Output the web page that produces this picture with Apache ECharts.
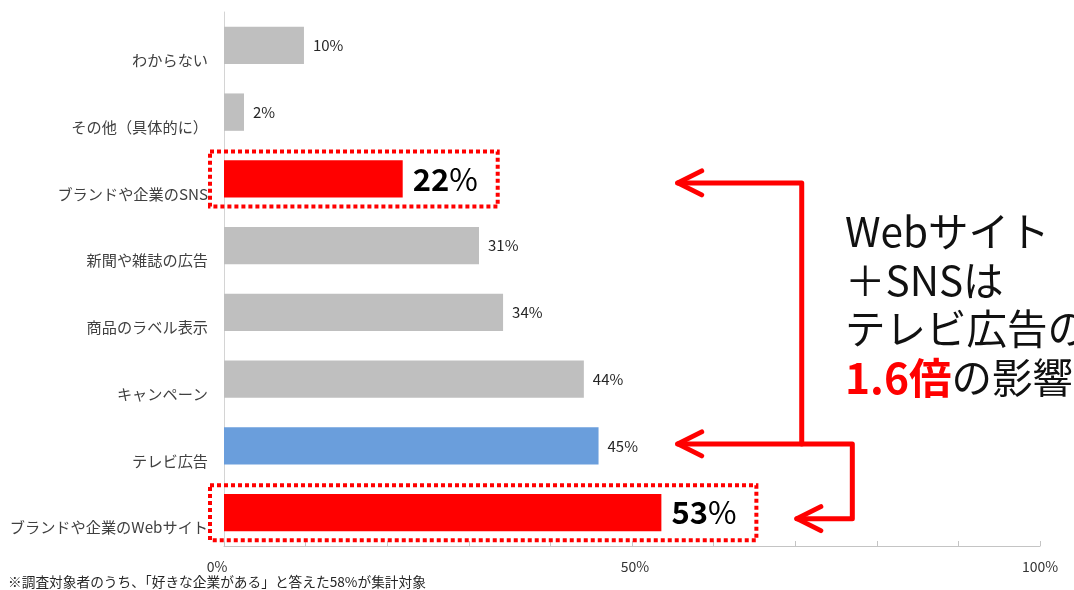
<!DOCTYPE html>
<html><head><meta charset="utf-8">
<script src="https://cdn.jsdelivr.net/npm/echarts/dist/echarts.min.js"></script>
<style>html,body{margin:0;padding:0;background:#fff}#c{width:1074px;height:590px}</style>
</head><body><div id="c"></div>
<script>
const categories = ['ブランドや企業のWebサイト','テレビ広告','キャンペーン','商品のラベル表示','新聞や雑誌の広告','ブランドや企業のSNS','その他（具体的に）','わからない'];
const values = [53.6,45.9,44.1,34.2,31.25,21.9,2.45,9.8];
const valueLabels = [53,45,44,34,31,22,2,10];
const xTickLabels = [0,50,100];
const highlightRed = ['ブランドや企業のWebサイト','ブランドや企業のSNS'];
const highlightBlue = ['テレビ広告'];
const noteLines = ['Webサイト','＋SNSは','テレビ広告の'];
const noteEmph = '1.6倍';
const noteTail = 'の影響';
const footnote = '※調査対象者のうち、「好きな企業がある」と答えた58%が集計対象';

const FONT = '"Noto Sans CJK JP","Noto Sans",sans-serif';
const chart = echarts.init(document.getElementById('c'));

const seriesData = categories.map((c,i)=>{
  const d = {value: values[i], name: c};
  if (highlightRed.includes(c)) {
    d.itemStyle = {color:'#FF0000'};
    d.label = {formatter: '{b|'+valueLabels[i]+'}{p|%}', distance: 10};
  } else {
    d.label = {formatter: valueLabels[i]+'%'};
    if (highlightBlue.includes(c)) d.itemStyle = {color:'#6A9EDC'};
  }
  return d;
});

chart.setOption({
  animation:false,
  backgroundColor:'#fff',
  grid:{left:224,right:34,top:12,bottom:44,containLabel:false,outerBoundsMode:'none'},
  xAxis:{type:'value',min:0,max:100,interval:10,
    axisLine:{show:true,lineStyle:{color:'#C4C4C4',width:1}},
    axisTick:{show:true,inside:true,length:5,lineStyle:{color:'#C4C4C4'}},
    splitLine:{show:false},
    axisLabel:{margin:14,color:'#333',fontSize:14,fontFamily:FONT,
      formatter:v=> v===0 ? '{z|0%}' : (v===50 ? '{f|50%}' : (xTickLabels.includes(v) ? v+'%' : '')),
      rich:{z:{padding:[0,14,0,0],fontSize:14,color:'#333',fontFamily:FONT},
            f:{padding:[0,0,0,6],fontSize:14,color:'#333',fontFamily:FONT}}}
  },
  yAxis:{type:'category',data:categories,
    axisLine:{show:true,lineStyle:{color:'#D4D4D4',width:1}},
    axisTick:{show:false},
    splitLine:{show:false},
    axisLabel:{margin:16,color:'#404040',fontSize:15.2,fontFamily:FONT,
      lineHeight:30,formatter:v=>'\n'+v}
  },
  series:[{type:'bar',data:seriesData,barWidth:'56%',
    itemStyle:{color:'#BFBFBF'},
    label:{show:true,position:'right',distance:9,color:'#262626',fontSize:15,fontFamily:FONT,
      rich:{b:{fontSize:31,fontWeight:'bold',color:'#000',fontFamily:FONT},
            p:{fontSize:31,color:'#000',fontFamily:FONT}}}
  }]
});

function px(v){return chart.convertToPixel({xAxisIndex:0},v);}
function py(c){return chart.convertToPixel({yAxisIndex:0},c);}

const x0 = px(0);
const graphics = [];
const red = '#FF0000';
// dotted boxes
[['ブランドや企業のSNS',21.9],['ブランドや企業のWebサイト',53.6]].forEach(([c,v])=>{
  const yc = py(c);
  const xl = x0-14, xr = px(v)+95;
  graphics.push({type:'rect',shape:{x:xl,y:yc-27.5,width:xr-xl,height:55},
    style:{fill:null,stroke:red,lineWidth:4,lineDash:[4,3]},z:10});
});
const ySNS = py('ブランドや企業のSNS')+4;
const yTV = py('テレビ広告')-2;
const yWeb = py('ブランドや企業のWebサイト')+6;
const xTip1 = px(55.6), xV1 = px(70.8), xV2 = px(77), xTip2 = px(70.2);
const lineStyle = {fill:null,stroke:red,lineWidth:5,lineJoin:'round',lineCap:'round'};
graphics.push({type:'polyline',shape:{points:[[xTip1,ySNS],[xV1,ySNS],[xV1,yTV]]},style:lineStyle,z:10});
graphics.push({type:'polyline',shape:{points:[[xTip1,yTV],[xV2,yTV],[xV2,yWeb],[xTip2,yWeb]]},style:lineStyle,z:10});
[[xTip1,ySNS],[xTip1,yTV],[xTip2,yWeb]].forEach(([x,y])=>{
  graphics.push({type:'polyline',shape:{points:[[x+24,y-12],[x,y],[x+24,y+12]]},style:lineStyle,z:10});
});
// note text
const noteX = 845, noteY0 = 232, lh = 48.5, NFS = 40.5;
noteLines.forEach((t,i)=>{
  graphics.push({type:'text',x:noteX,y:noteY0+i*lh,
    style:{text:t,fontSize:NFS,fontFamily:FONT,fill:'#111',verticalAlign:'middle',align:'left'},z:10});
});
graphics.push({type:'text',x:noteX,y:noteY0+3*lh,
  style:{text:'{e|'+noteEmph+'}{n|'+noteTail+'}',verticalAlign:'middle',align:'left',
    rich:{e:{fontSize:NFS+2,fontWeight:'bold',fill:red,color:red,fontFamily:FONT},
          n:{fontSize:NFS,fill:'#111',color:'#111',fontFamily:FONT}}},z:10});
// footnote
graphics.push({type:'text',x:8,y:582,style:{text:footnote,fontSize:13.7,fontFamily:FONT,fill:'#262626',verticalAlign:'middle'}});
chart.setOption({graphic:graphics});
</script>
</body></html>
